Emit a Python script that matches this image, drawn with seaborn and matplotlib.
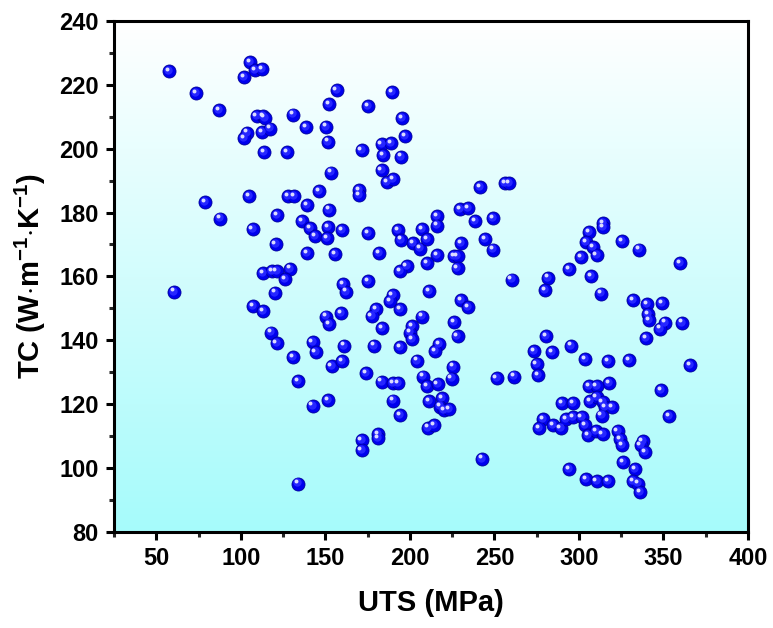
import numpy as np
import pandas as pd
import matplotlib
matplotlib.use("Agg")
import matplotlib.pyplot as plt
from matplotlib.colors import LinearSegmentedColormap
from matplotlib.transforms import offset_copy
from matplotlib.ticker import MultipleLocator
import seaborn as sns

# ---------------- data ----------------
uts_mpa = [
    57.7, 73.5, 87.3, 105.4, 108.4, 112.4, 101.9, 109.4, 113.0, 114.1, 131.1, 138.6,
    103.5, 101.9, 112.7, 117.3, 113.7, 127.5, 78.8, 104.8, 128.1, 131.5, 139.0, 87.7,
    121.6, 107.0, 136.2, 140.9, 120.6, 139.3, 113.3, 118.3, 121.2, 129.1,
    156.7, 152.3, 175.1, 189.6, 150.4, 151.4, 195.2, 197.1, 171.5, 183.3, 188.7, 184.3,
    194.7, 183.3, 186.3, 190.2, 153.3, 146.4, 169.9, 170.1, 241.5, 256.3, 258.5, 152.3,
    143.9, 151.7, 151.2, 159.7, 175.4, 155.7, 181.9, 193.1, 194.7, 201.7, 206.0, 207.0,
    210.0, 215.9, 215.9, 229.6, 234.6, 238.5, 249.0, 230.2, 244.4, 249.3, 215.9, 226.3,
    228.2, 210.0, 228.2, 198.1, 194.2, 175.2, 260.2,
    314.4, 314.4, 306.0, 304.2, 308.5, 310.5, 301.2, 325.6, 335.5, 359.8, 294.1, 281.9,
    307.3,
    60.5, 126.1, 120.2, 107.4, 113.0, 117.9, 121.2, 131.1, 133.7, 134.1, 142.5, 142.5,
    160.6, 162.2, 211.3, 189.8, 188.2, 194.2, 180.0, 177.4, 159.3, 150.4, 152.2, 183.7,
    207.4, 230.2, 234.6, 226.3, 228.2, 201.1, 200.1, 201.4, 144.3, 161.0, 179.0, 194.2,
    217.4, 214.9, 204.4, 153.7, 160.0, 174.0, 183.3, 190.2, 193.2, 207.9, 210.3, 216.4,
    225.7, 224.7, 251.3, 261.6, 151.4, 190.2, 194.2, 211.3, 219.2, 217.8, 220.3, 223.1,
    210.9, 214.3, 171.5, 171.5, 181.0, 181.0, 242.5,
    279.9, 312.9, 332.2, 340.5, 349.0, 341.1, 341.7, 350.9, 348.0, 360.8, 339.7, 280.5,
    273.4, 284.2, 295.3, 303.6, 317.4, 329.8, 365.7, 275.0, 276.0, 317.8, 306.1, 310.5,
    348.5, 290.2, 296.7, 306.5, 310.5, 314.0, 315.4, 319.4, 313.4, 353.5, 278.9, 276.4,
    284.8, 289.2, 292.3, 296.7, 301.6, 303.6, 305.6, 310.1, 314.0, 322.9, 324.3, 325.3,
    337.7, 336.5, 339.1, 325.9, 333.2, 294.1, 304.0, 310.5, 317.4, 331.8, 335.1, 336.1,
]
tc_w = [
    224.4, 217.5, 212.1, 227.0, 224.6, 224.9, 222.3, 210.3, 210.3, 209.7, 210.7, 206.8,
    205.0, 203.2, 205.2, 206.3, 198.8, 198.8, 183.2, 185.1, 185.1, 185.1, 182.3, 178.1,
    179.1, 174.7, 177.3, 175.2, 170.1, 167.2, 161.1, 161.7, 161.7, 162.4,
    218.3, 213.9, 213.4, 217.6, 206.9, 202.2, 209.5, 204.0, 199.6, 201.5, 201.7, 198.1,
    197.5, 193.2, 189.5, 190.5, 192.5, 186.6, 186.9, 185.4, 188.0, 189.2, 189.2, 180.9,
    172.5, 175.4, 172.0, 174.4, 173.6, 167.0, 167.3, 174.4, 171.5, 170.5, 168.7, 174.9,
    171.7, 178.8, 175.9, 181.1, 181.4, 177.3, 178.3, 170.3, 171.7, 168.4, 166.6, 166.3,
    166.3, 164.2, 162.5, 163.2, 161.7, 158.6, 159.0,
    176.7, 175.5, 173.8, 170.7, 169.2, 166.6, 166.1, 171.0, 168.4, 164.2, 162.2, 159.6,
    160.0,
    155.2, 159.1, 154.9, 150.7, 149.2, 142.4, 139.2, 134.8, 127.3, 95.1, 139.4, 119.5,
    157.5, 155.2, 155.4, 154.2, 152.3, 149.7, 149.7, 147.6, 148.6, 147.4, 145.0, 143.8,
    147.4, 152.5, 150.4, 145.7, 141.4, 144.5, 142.4, 140.3, 136.2, 138.3, 138.3, 137.9,
    138.8, 136.7, 133.6, 131.8, 133.4, 129.6, 127.0, 126.5, 126.5, 128.6, 125.5, 126.3,
    131.7, 128.0, 128.2, 128.6, 121.3, 121.1, 116.6, 120.9, 121.9, 119.2, 118.2, 118.5,
    112.6, 113.3, 108.6, 105.5, 110.7, 109.3, 102.9,
    155.6, 154.6, 152.5, 151.3, 151.5, 148.1, 146.3, 145.5, 143.6, 145.5, 140.7, 141.4,
    136.5, 136.2, 138.3, 134.1, 133.4, 133.8, 132.2, 132.5, 129.1, 126.5, 125.5, 125.5,
    124.4, 120.4, 120.4, 120.8, 122.1, 120.6, 119.0, 119.0, 116.4, 116.3, 115.4, 112.4,
    113.5, 112.4, 115.2, 115.9, 115.9, 113.3, 110.2, 111.4, 110.5, 111.4, 109.1, 107.1,
    108.4, 107.1, 105.0, 101.7, 99.5, 99.5, 96.4, 95.8, 95.8, 95.9, 95.1, 92.5,
]
x_ticks = [50, 100, 150, 200, 250, 300, 350, 400]
y_ticks = [80, 100, 120, 140, 160, 180, 200, 220, 240]
x_label = "UTS (MPa)"
y_label = r"TC (W$\cdot$m$^{\mathbf{-1}}$$\cdot$K$^{\mathbf{-1}}$)"

df = pd.DataFrame({"UTS": uts_mpa, "TC": tc_w})

# ---------------- style ----------------
sns.set_theme(style="white")
plt.rcParams["font.family"] = ["Liberation Sans", "DejaVu Sans"]
plt.rcParams["mathtext.fontset"] = "custom"
plt.rcParams["mathtext.rm"] = "Liberation Sans:bold"
plt.rcParams["mathtext.bf"] = "Liberation Sans:bold"
plt.rcParams["mathtext.it"] = "Liberation Sans:bold"
plt.rcParams["mathtext.default"] = "bf"

fig = plt.figure(figsize=(7.73, 6.28), dpi=100)
ax = fig.add_axes([0.1475, 0.1533, 0.8202, 0.8133])

# gradient background (white top -> cyan bottom)
cmap = LinearSegmentedColormap.from_list("bg", ["#a6fbfb", "#ffffff"])
grad = np.linspace(0, 1, 256).reshape(-1, 1)
ax.imshow(grad, extent=[0, 1, 0, 1], transform=ax.transAxes, aspect="auto",
          cmap=cmap, origin="lower", zorder=0, interpolation="bicubic")

# spheres: base
sns.scatterplot(data=df, x="UTS", y="TC", ax=ax, s=88, color="#0000ee",
                edgecolor="#00009a", linewidth=0.6, zorder=3, legend=False)
# shading highlights
t1 = offset_copy(ax.transData, fig=fig, x=-0.8, y=0.8, units="points")
ax.scatter(df["UTS"], df["TC"], s=36, color="#2626ff", linewidth=0,
           transform=t1, zorder=4)
t2 = offset_copy(ax.transData, fig=fig, x=-1.6, y=1.6, units="points")
ax.scatter(df["UTS"], df["TC"], s=8, color="#dcdcff", linewidth=0,
           transform=t2, zorder=5)

ax.set_xlim(25, 400)
ax.set_ylim(80, 240)
ax.set_xticks(x_ticks)
ax.set_yticks(y_ticks)
ax.xaxis.set_minor_locator(MultipleLocator(25))
ax.yaxis.set_minor_locator(MultipleLocator(10))

for s in ax.spines.values():
    s.set_visible(True)
    s.set_color("black")
    s.set_linewidth(2.2)

ax.tick_params(axis="both", which="major", direction="out", length=6, width=2.2,
               labelsize=17, colors="black", pad=5,
               bottom=True, left=True, top=False, right=False)
ax.tick_params(axis="both", which="minor", direction="out", length=3.5, width=2.2,
               bottom=True, left=True, top=False, right=False)
for lbl in ax.get_xticklabels() + ax.get_yticklabels():
    lbl.set_fontweight("bold")

ax.set_xlabel(x_label, fontsize=21, fontweight="bold", labelpad=14, color="black")
ax.set_ylabel(y_label, fontsize=21, fontweight="bold", labelpad=8, color="black")

fig.savefig("out.png", dpi=100)
